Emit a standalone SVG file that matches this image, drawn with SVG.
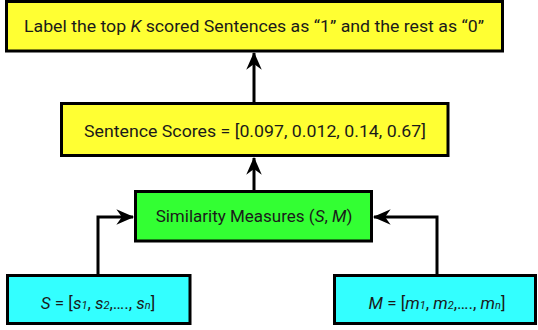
<svg xmlns="http://www.w3.org/2000/svg" width="538" height="330" viewBox="0 0 538 330">
<style>
.box{stroke:#000;stroke-width:3;}
.y{fill:#ffff33;}
.g{fill:#33ff33;}
.c{fill:#33ffff;}
text{font-family:Roboto,"Liberation Sans",sans-serif;font-size:17px;fill:#1a1a1a;text-anchor:middle;}
.sub{font-size:11px;}
.con{fill:none;stroke:#000;stroke-width:3;}
</style>
<defs>
<marker id="ah" markerUnits="userSpaceOnUse" markerWidth="20" markerHeight="20" viewBox="-16 -8 18 16" refX="0" refY="0" orient="auto">
<path d="M1,0 L-15,-7 L-10,0 L-15,7 Z" fill="#000"/>
</marker>
</defs>
<g id="top">
<rect class="box y" x="6.5" y="1.5" width="496" height="49.5"/>
<text x="254" y="32" textLength="460" lengthAdjust="spacingAndGlyphs">Label the top <tspan font-style="italic">K</tspan> scored Sentences as “1” and the rest as “0”</text>
</g>
<g id="scores">
<rect class="box y" x="61.5" y="103.5" width="386.5" height="52"/>
<text x="255" y="137" textLength="342" lengthAdjust="spacingAndGlyphs">Sentence Scores = [0.097, 0.012, 0.14, 0.67]</text>
</g>
<g id="sim">
<rect class="box g" x="135.5" y="191.5" width="236" height="49.5"/>
<text x="254" y="222">Similarity Measures (<tspan font-style="italic">S</tspan>, <tspan font-style="italic">M</tspan>)</text>
</g>
<g id="S">
<rect class="box c" x="7.5" y="275.5" width="182.5" height="48"/>
<text x="98" y="309"><tspan font-style="italic">S</tspan> = [<tspan font-style="italic">s</tspan><tspan class="sub" font-style="italic">1</tspan>, <tspan font-style="italic">s</tspan><tspan class="sub" font-style="italic">2</tspan>,…., <tspan font-style="italic">s</tspan><tspan class="sub" font-style="italic">n</tspan>]</text>
</g>
<g id="M">
<rect class="box c" x="334.5" y="275.5" width="201" height="48"/>
<text x="437" y="309"><tspan font-style="italic">M</tspan> = [<tspan font-style="italic">m</tspan><tspan class="sub" font-style="italic">1</tspan>, <tspan font-style="italic">m</tspan><tspan class="sub" font-style="italic">2</tspan>,…., <tspan font-style="italic">m</tspan><tspan class="sub" font-style="italic">n</tspan>]</text>
</g>
<g id="connectors">
<path class="con" d="M254,102 V53" marker-end="url(#ah)"/>
<path class="con" d="M254,190 V158" marker-end="url(#ah)"/>
<path class="con" d="M98,274 V217 H133" marker-end="url(#ah)"/>
<path class="con" d="M437,274 V217 H374" marker-end="url(#ah)"/>
</g>
</svg>
